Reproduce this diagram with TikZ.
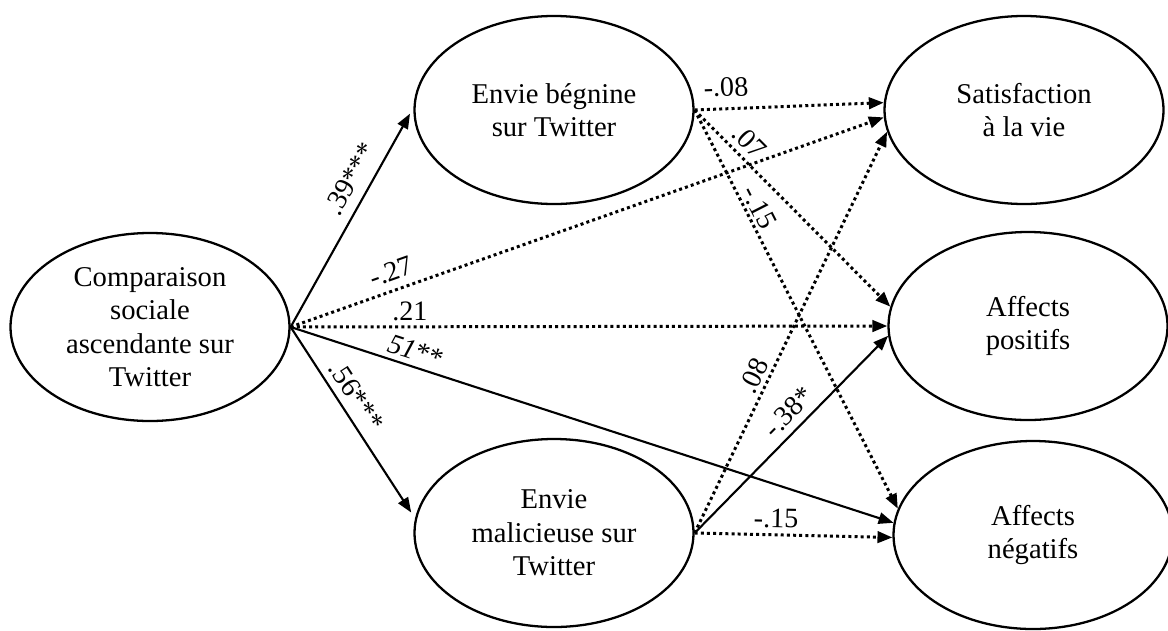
\documentclass[tikz,border=0pt]{standalone}
\usepackage{fontspec}
\setmainfont{Liberation Serif}
\usetikzlibrary{arrows.meta,shapes.geometric}

\begin{document}
\begin{tikzpicture}[
  latent/.style={draw, ellipse, line width=1.3pt, minimum width=5.58cm, minimum height=3.76cm, inner sep=0pt, align=center, font=\fontsize{16.3}{19}\selectfont},
  sig/.style={line width=1.2pt, -{Triangle[length=8.5pt,width=6.5pt]}},
  nonsig/.style={sig, line width=1.7pt, dash pattern=on 1.7pt off 1.8pt},
  coef/.style={font=\fontsize{16}{19}\selectfont, sloped, above, inner sep=3pt},
]
\useasboundingbox (0,0) rectangle (23.36,12.6);
% variables
\node[latent] (cmp) at (3.00,6.06) {Comparaison\\sociale\\ascendante sur\\Twitter};
\node[latent] (eb) at (11.08,10.40) {Envie bégnine\\sur Twitter};
\node[latent] (em) at (11.08,1.94) {Envie\\malicieuse sur\\Twitter};
\node[latent] (sv) at (20.48,10.40) {Satisfaction\\à la vie};
\node[latent] (ap) at (20.56,6.08) {Affects\\positifs};
\node[latent] (an) at (20.66,1.90) {Affects\\négatifs};
% paths from comparaison
\draw[sig, shorten >=4pt] (cmp.east) -- node[coef, pos=0.63, inner sep=5.5pt] {.39***} (eb.179);
\draw[sig, shorten >=4pt] (cmp.east) -- node[coef, pos=0.41, inner sep=4pt] {.56***} (em.174);
\draw[nonsig] (cmp.east) -- node[coef, pos=0.18, inner sep=4.3pt] {-.27} (sv.183.6);
\draw[nonsig] (cmp.east) -- node[coef, pos=0.2, inner sep=2.7pt] {.21} (ap.180);
\draw[sig] (cmp.east) -- node[coef, pos=0.2] {\textit{51}**} (an.175);
% paths from envie begnine
\draw[nonsig] (eb.east) -- node[coef, pos=0.17, inner sep=6pt] {-.08} (sv.177.2);
\draw[nonsig] (eb.east) -- node[coef, pos=0.22, inner sep=3.4pt] {.07} (ap.172);
\draw[nonsig] (eb.east) -- node[coef, pos=0.26, inner sep=1.5pt] {-.15} (an.169);
% paths from envie malicieuse
\draw[nonsig] (em.east) -- node[coef, pos=0.376, inner sep=2pt] {.08} (sv.189.7);
\draw[sig] (em.east) -- node[coef, pos=0.55, inner sep=4pt] {-.38*} (ap.184.4);
\draw[nonsig] (em.east) -- node[coef, pos=0.41, inner sep=3pt] {-.15} (an.181.2);
\end{tikzpicture}
\end{document}
